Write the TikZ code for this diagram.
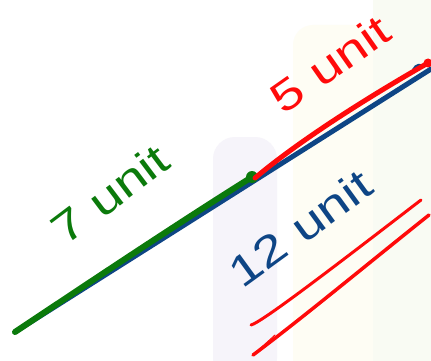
\documentclass[tikz,border=0pt]{standalone}
\usepackage{fontspec}
\setmainfont{Liberation Sans}
\definecolor{inkblue}{HTML}{0E4585}
\definecolor{inkgreen}{HTML}{0B7A0B}
\definecolor{inkred}{HTML}{FF0A0A}
\definecolor{bandlav}{HTML}{F6F4FA}
\definecolor{bandcream}{HTML}{FEFDF4}
\definecolor{bandlight}{HTML}{F9FBF3}
\tikzset{
  stroke/.style={line cap=round, line join=round},
  label/.style={font=\fontsize{43}{43}\selectfont, inner sep=0pt, xscale=1.28},
}
\begin{document}
\begin{tikzpicture}[x=1pt,y=-1pt]
\useasboundingbox (0,0) rectangle (431,361);
\fill[white] (0,0) rectangle (431,361);
% background bands
\fill[bandlav, rounded corners=22pt] (213,380) -- (213,137) -- (277,137) -- (277,380) -- cycle;
\fill[bandcream, rounded corners=20pt] (293,380) -- (293,25) -- (373,25) -- (373,380) -- cycle;
\fill[bandlight] (373,0) rectangle (431,361);
% key points
\coordinate (A) at (15,332);
\coordinate (M) at (252,177);
\coordinate (B) at (431,69);
\coordinate (R) at (428,63);
% blue whole segment
\draw[stroke, inkblue, line width=5pt] (A) -- (B);
\draw[stroke, inkblue, line width=2.5pt] (413,70) .. controls (416,64) and (421,64) .. (424,67);
% green part
\draw[stroke, inkgreen, line width=6pt] (A) .. controls (90,282) and (180,222) .. (M);
\fill[inkgreen] (M) circle (6pt);
% red part
\draw[stroke, inkred, line width=5pt] ([xshift=3pt,yshift=-1pt]M) .. controls (300,140) and (370,96) .. (R);
\fill[inkred] (R) circle (4.5pt);
% labels
\node[rotate=37, label, text=inkgreen] (L7) at (110,194) {7 unit};
\node[rotate=35, label, text=inkred] (L5) at (330,64) {5 unit};
\node[rotate=36, label, text=inkblue] (L12) at (300,228) {12 unit};
% double underline
\coordinate (U1s) at (251,325);
\coordinate (U1e) at (421,200);
\coordinate (U2s) at (253,355);
\coordinate (U2e) at (429,215);
\draw[stroke, inkred, line width=3pt] (U1s) .. controls (262,322) and (330,270) .. (U1e);
\draw[stroke, inkred, line width=3.5pt] (U2s) .. controls (300,320) and (370,262) .. (U2e);
\draw[stroke, inkred, line width=1pt] (U2s) -- (275,335);
\end{tikzpicture}
\end{document}
